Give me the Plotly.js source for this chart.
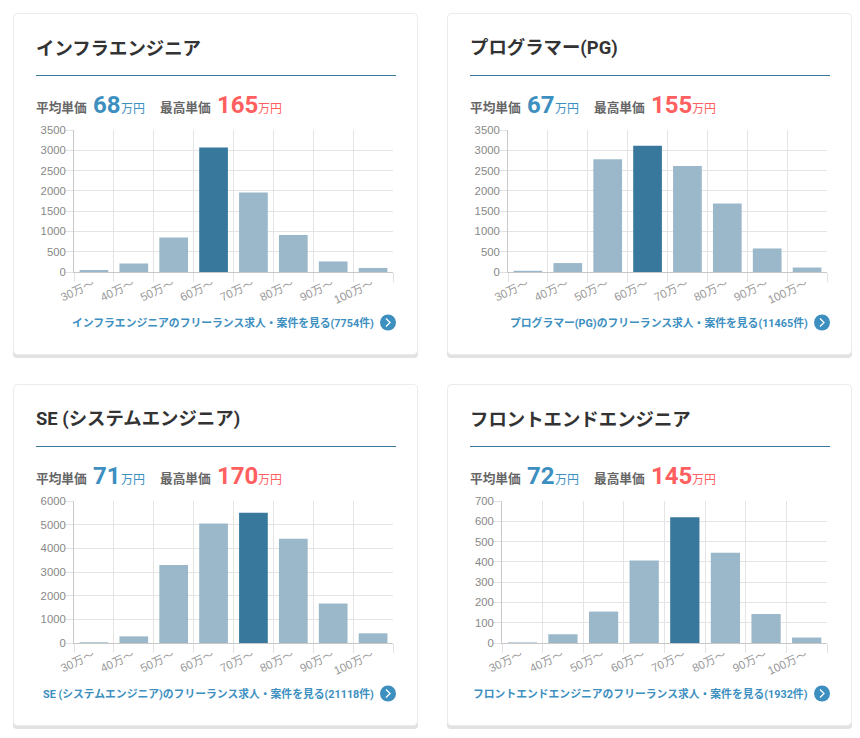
<!DOCTYPE html>
<html><head><meta charset="utf-8">
<script src="https://cdn.plot.ly/plotly-3.0.0.min.js"></script>
<style>html,body{margin:0;padding:0;background:#fff}#c{width:860px;height:738px}</style></head>
<body><div id="c"></div>
<script>
const categories = ["30万〜","40万〜","50万〜","60万〜","70万〜","80万〜","90万〜","100万〜"];
const infra = [50,210,850,3070,1960,910,260,100];
const programmer = [30,220,2780,3110,2610,1690,580,110];
const se = [30,280,3300,5050,5500,4400,1670,410];
const frontend = [3,43,155,407,620,445,143,27];
const titles = ["インフラエンジニア","プログラマー(PG)","SE (システムエンジニア)","フロントエンドエンジニア"];
const avgPrice = ["68","67","71","72"];
const maxPrice = ["165","155","170","145"];
const links = ["インフラエンジニアのフリーランス求人・案件を見る(7754件)","プログラマー(PG)のフリーランス求人・案件を見る(11465件)","SE (システムエンジニア)のフリーランス求人・案件を見る(21118件)","フロントエンドエンジニアのフリーランス求人・案件を見る(1932件)"];
const yMax = [3500,3500,6000,700];
const yStep = [500,500,1000,100];
const peak = [3,3,4,4];
const series = [infra,programmer,se,frontend];

const W=860,H=738;
const px=x=>x/W, py=y=>1-y/H;
const DARK="#37789c",LIGHT="#9ab8ca",BLUE="#3d8fbf",RED="#ff5f5f";
const FONT="Roboto, 'Noto Sans CJK JP', sans-serif";
const cardX=[14,448,14,448], cardY=[14,14,385,385];
const plotL=[74,508,74,502];
const traces=[],shapes=[],annotations=[];
const layout={width:W,height:H,margin:{l:0,r:0,t:0,b:0},paper_bgcolor:"#fff",plot_bgcolor:"rgba(0,0,0,0)",showlegend:false,bargap:0.28,shapes,annotations,font:{family:FONT}};

function rr(x0,y0,x1,y1,r){
  const X=px,Y=py;
  return `M${X(x0+r)},${Y(y0)}L${X(x1-r)},${Y(y0)}Q${X(x1)},${Y(y0)} ${X(x1)},${Y(y0+r)}L${X(x1)},${Y(y1-r)}Q${X(x1)},${Y(y1)} ${X(x1-r)},${Y(y1)}L${X(x0+r)},${Y(y1)}Q${X(x0)},${Y(y1)} ${X(x0)},${Y(y1-r)}L${X(x0)},${Y(y0+r)}Q${X(x0)},${Y(y0)} ${X(x0+r)},${Y(y0)}Z`;
}
function shape(path,fill,line){shapes.push({type:"path",xref:"paper",yref:"paper",layer:"below",path,fillcolor:fill,line:line?{color:line,width:1}:{width:0}});}
function text(t,x,y,size,color,bold,anchor,fam){annotations.push({xref:"paper",yref:"paper",x:px(x),y:py(y),xanchor:anchor||"left",yanchor:"middle",showarrow:false,text:bold?`<b>${t}</b>`:t,font:{size,color,family:fam||FONT},borderpad:0,borderwidth:0});}

series.forEach((vals,i)=>{
  const cx=cardX[i],cy=cardY[i],s=i?String(i+1):"";
  shape(rr(cx-1,cy+6,cx+404,cy+344,4),"#e2e2e2");
  shape(rr(cx-.5,cy-.5,cx+403.5,cy+340.5,4),"#fff","#ebebeb");
  text(titles[i],cx+22,cy+34,18.4,"#333",true,"left",FONT);
  shapes.push({type:"line",xref:"paper",yref:"paper",layer:"below",x0:px(cx+22),x1:px(cx+382),y0:py(cy+61.5),y1:py(cy+61.5),line:{color:DARK,width:1}});
  text("平均単価",cx+22,cy+93.5,12.7,"#666",true);
  text(avgPrice[i],cx+79,cy+91,24,BLUE,true);
  text("万円",cx+107,cy+94.5,12,BLUE,false);
  text("最高単価",cx+146,cy+93.5,12.7,"#666",true);
  text(maxPrice[i],cx+203,cy+91,24,RED,true);
  text("万円",cx+244,cy+94.5,12,RED,false);
  text(links[i],cx+360,cy+308.5,10.8,BLUE,true,"right");
  const ix=cx+374,iy=cy+308.5;
  shapes.push({type:"circle",xref:"paper",yref:"paper",x0:px(ix-8),x1:px(ix+8),y0:py(iy-8),y1:py(iy+8),fillcolor:BLUE,line:{width:0}});
  shapes.push({type:"path",xref:"paper",yref:"paper",path:`M${px(ix-2)},${py(iy-4)}L${px(ix+2)},${py(iy)}L${px(ix-2)},${py(iy+4)}`,line:{color:"#fff",width:1.3}});
  const top=cy+116,bot=cy+258;
  traces.push({type:"bar",x:categories,y:vals,xaxis:"x"+s,yaxis:"y"+s,hoverinfo:"x+y",
    marker:{color:vals.map((_,k)=>k===peak[i]?DARK:LIGHT),line:{width:0}}});
  layout["xaxis"+s]={domain:[px(plotL[i]),px(plotL[i]+(i===3?325:319))],anchor:"y"+s,type:"category",range:[-0.5,7.5],
    tickson:"boundaries",ticks:"outside",ticklen:9,tickcolor:"#e2e2e2",tickwidth:1,showgrid:true,gridcolor:"#e4e4e4",gridwidth:1,
    tickangle:-25,tickfont:{size:11.5,color:"#999",family:"'Liberation Sans','Noto Sans CJK JP',sans-serif"},
    showline:true,linecolor:"#c8c8c8",linewidth:1,fixedrange:true,automargin:false,ticklabelstandoff:0,ticklabelshift:-1};
  layout["yaxis"+s]={domain:[py(bot),py(top)],anchor:"x"+s,range:[0,yMax[i]],tick0:0,dtick:yStep[i],
    ticks:"outside",ticklen:8,tickcolor:"#e2e2e2",tickwidth:1,showgrid:true,gridcolor:"#e4e4e4",gridwidth:1,
    tickfont:{size:11.3,color:"#888",family:"'Liberation Sans',sans-serif"},zeroline:false,ticklabelstandoff:-3,
    showline:true,linecolor:"#c8c8c8",linewidth:1,fixedrange:true,automargin:false};
});
Plotly.newPlot("c",traces,layout,{displayModeBar:false,staticPlot:true});
</script></body></html>
